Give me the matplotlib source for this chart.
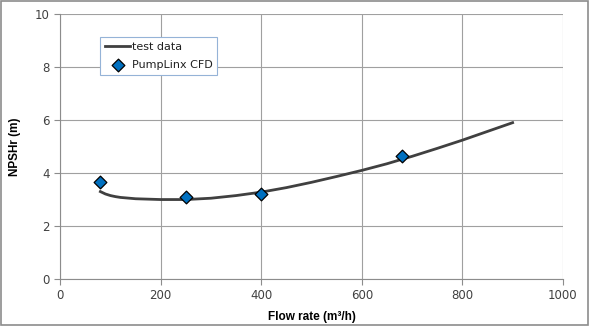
import matplotlib
matplotlib.use("Agg")
import matplotlib.pyplot as plt
from matplotlib.patches import Rectangle

# test data curve
test_q = [80, 90, 100, 110, 120, 150, 200, 250, 300, 350, 400, 450, 500, 550, 600,
          650, 680, 700, 750, 800, 850, 900]
test_npsh = [3.3, 3.21, 3.15, 3.11, 3.08, 3.03, 3.0, 3.0, 3.05, 3.15, 3.28, 3.45,
             3.65, 3.87, 4.1, 4.35, 4.52, 4.63, 4.93, 5.24, 5.57, 5.9]

# PumpLinx CFD points
cfd_q = [80, 250, 400, 680]
cfd_npsh = [3.65, 3.1, 3.2, 4.65]

fig = plt.figure(figsize=(5.9, 3.26), dpi=100)
ax = fig.add_axes([0.102, 0.144, 0.852, 0.813])

ax.plot(test_q, test_npsh, color='#404040', lw=2, label='test data', zorder=3,
        solid_joinstyle='round')
ax.scatter(cfd_q, cfd_npsh, marker='D', s=42, color='#0070C0', edgecolor='black',
           linewidth=0.9, label='PumpLinx CFD', zorder=4)

ax.set_xlim(0, 1000)
ax.set_ylim(0, 10)
ax.set_xticks(range(0, 1001, 200))
ax.set_yticks(range(0, 11, 2))
ax.grid(True, color='#a0a0a0', lw=0.8)
ax.set_axisbelow(True)
for s in ['top', 'right']:
    ax.spines[s].set_visible(False)
for s in ['left', 'bottom']:
    ax.spines[s].set_color('#8c8c8c')
ax.tick_params(colors='#8c8c8c', labelcolor='#404040', labelsize=8.5, length=4)

ax.set_xlabel('Flow rate (m³/h)', fontsize=8.5, fontweight='bold', family='Liberation Sans', labelpad=6)
ax.set_ylabel('NPSHr (m)', fontsize=8.5, fontweight='bold', family='Liberation Sans', labelpad=10)

leg = ax.legend(loc='upper left', bbox_to_anchor=(0.068, 0.935), fontsize=8,
                fancybox=False, framealpha=1, edgecolor='#95b3d7', borderpad=0.45,
                handlelength=2.3, handletextpad=0.1, labelspacing=0.7, scatterpoints=1)
leg.get_frame().set_linewidth(0.8)
for t in leg.get_texts():
    t.set_color('#202020')

fig.patches.append(Rectangle((0.002, 0.003), 0.995, 0.994, transform=fig.transFigure,
                             fill=False, edgecolor='#8c8c8c', lw=1.2))

fig.savefig('out.png', dpi=100)
